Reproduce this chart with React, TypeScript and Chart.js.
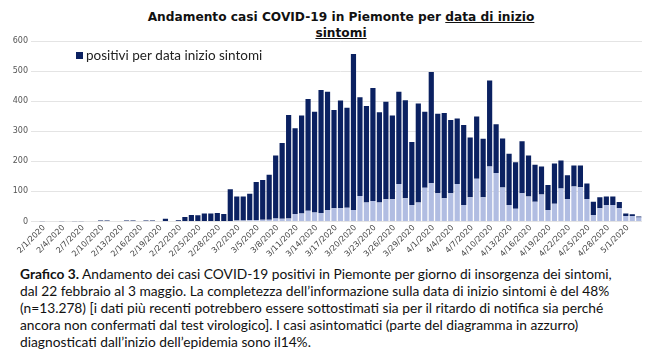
import React, { useEffect, useRef } from "react";
import { Chart, registerables } from "chart.js";

Chart.register(...registerables);

const dateLabels: string[] = [
  "2/1/2020","2/2/2020","2/3/2020","2/4/2020","2/5/2020","2/6/2020","2/7/2020","2/8/2020","2/9/2020","2/10/2020",
  "2/11/2020","2/12/2020","2/13/2020","2/14/2020","2/15/2020","2/16/2020","2/17/2020","2/18/2020","2/19/2020","2/20/2020",
  "2/21/2020","2/22/2020","2/23/2020","2/24/2020","2/25/2020","2/26/2020","2/27/2020","2/28/2020","2/29/2020",
  "3/1/2020","3/2/2020","3/3/2020","3/4/2020","3/5/2020","3/6/2020","3/7/2020","3/8/2020","3/9/2020","3/10/2020",
  "3/11/2020","3/12/2020","3/13/2020","3/14/2020","3/15/2020","3/16/2020","3/17/2020","3/18/2020","3/19/2020","3/20/2020",
  "3/21/2020","3/22/2020","3/23/2020","3/24/2020","3/25/2020","3/26/2020","3/27/2020","3/28/2020","3/29/2020","3/30/2020","3/31/2020",
  "4/1/2020","4/2/2020","4/3/2020","4/4/2020","4/5/2020","4/6/2020","4/7/2020","4/8/2020","4/9/2020","4/10/2020",
  "4/11/2020","4/12/2020","4/13/2020","4/14/2020","4/15/2020","4/16/2020","4/17/2020","4/18/2020","4/19/2020","4/20/2020",
  "4/21/2020","4/22/2020","4/23/2020","4/24/2020","4/25/2020","4/26/2020","4/27/2020","4/28/2020","4/29/2020","4/30/2020",
  "5/1/2020","5/2/2020","5/3/2020",
];

// total positives per day of symptom onset
const totalCases: number[] = [
  1,0,0,1,0,1,1,0,0,3,3,0,2,3,3,2,3,3,2,9,2,4,15,22,21,27,27,28,25,
  107,83,83,92,131,138,155,219,261,354,
  310,352,407,365,437,431,371,402,378,557,
  413,384,444,363,398,352,431,403,264,392,
  365,497,358,361,337,342,321,279,349,275,
  469,323,276,225,197,267,219,189,183,121,
  193,203,154,186,186,126,66,81,83,83,
  65,27,24,17,
];

// asymptomatic part (light blue)
const asymptomatic: number[] = [
  0,0,0,0,0,0,0,0,0,0,0,0,0,0,0,0,0,0,0,0,0,0,0,0,0,0,0,0,0,
  2,3,3,4,5,6,6,10,9,10,
  25,27,36,30,28,38,44,44,46,38,
  85,63,68,63,74,74,125,77,55,63,
  112,127,94,77,94,125,55,81,142,81,
  183,161,113,55,42,94,83,66,90,38,
  59,110,75,116,114,75,22,44,55,55,
  44,18,18,13,
];

const yTicks: number[] = [0, 100, 200, 300, 400, 500, 600];

const DARK = "#0b2161";
const LIGHT = "#b1bde2";
const legendText = "positivi per data inizio sintomi";

const legendPlugin = {
  id: "insideLegend",
  afterDraw(chart: any) {
    const ctx = chart.ctx;
    ctx.save();
    ctx.fillStyle = DARK;
    ctx.fillRect(76, 52, 7, 7);
    ctx.fillStyle = "#222";
    ctx.font = "13.5px Lato";
    ctx.textBaseline = "middle";
    ctx.fillText(legendText, 86, 56);
    ctx.restore();
  },
};

const xLabelPlugin = {
  id: "rotatedXLabels",
  afterDraw(chart: any) {
    const ctx = chart.ctx;
    const xs = chart.scales.x;
    const bottom = chart.chartArea.bottom;
    ctx.save();
    ctx.fillStyle = "#444";
    ctx.font = "8px 'DejaVu Sans'";
    ctx.textAlign = "right";
    ctx.textBaseline = "middle";
    dateLabels.forEach((lab, i) => {
      if (i % 3 !== 0) return;
      const x = xs.getPixelForValue(i);
      ctx.save();
      ctx.translate(x + 2, bottom + 5);
      ctx.rotate(-Math.PI / 4);
      ctx.fillText(lab, 0, 0);
      ctx.restore();
    });
    ctx.restore();
  },
};

export default function App() {
  const ref = useRef<HTMLCanvasElement | null>(null);
  useEffect(() => {
    if (!ref.current) return;
    const symptomatic = totalCases.map((t, i) => t - asymptomatic[i]);
    const chart = new Chart(ref.current, {
      type: "bar",
      data: {
        labels: dateLabels,
        datasets: [
          {
            label: "asintomatici",
            data: asymptomatic,
            backgroundColor: LIGHT,
            barPercentage: 0.8,
            categoryPercentage: 1,
          },
          {
            label: legendText,
            data: symptomatic,
            backgroundColor: DARK,
            barPercentage: 0.8,
            categoryPercentage: 1,
          },
        ],
      },
      options: {
        responsive: false,
        animation: false,
        layout: { padding: { top: 41, right: 8, left: 0, bottom: 0 } },
        plugins: {
          legend: { display: false },
          tooltip: { enabled: false },
          title: { display: false },
        },
        scales: {
          x: {
            stacked: true,
            grid: { display: false },
            border: { display: false },
            ticks: { display: false },
            afterFit: (s: any) => {
              s.height = 40.5;
            },
          },
          y: {
            stacked: true,
            min: 0,
            max: 600,
            afterBuildTicks: (s: any) => {
              s.ticks = yTicks.map((v) => ({ value: v }));
            },
            grid: { color: "#e4e4e4", lineWidth: 1 },
            border: { display: false },
            ticks: {
              color: "#555",
              font: { family: "DejaVu Sans", size: 8 },
              padding: 3,
            },
            afterFit: (s: any) => {
              s.width = 39;
            },
          },
        },
      },
      plugins: [legendPlugin, xLabelPlugin],
    });
    return () => chart.destroy();
  }, []);

  const lineStyle: React.CSSProperties = { whiteSpace: "nowrap", height: 17 };

  return (
    <div style={{ position: "absolute", left: 0, top: 0, width: 650, height: 358, background: "#fff", overflow: "hidden" }}>
      <div
        style={{
          position: "absolute",
          left: 40,
          width: 602,
          top: 9,
          textAlign: "center",
          fontFamily: "DejaVu Sans",
          fontWeight: "bold",
          fontSize: 12.2,
          lineHeight: "16px",
          color: "#111",
        }}
      >
        Andamento casi COVID-19 in Piemonte per{" "}
        <span style={{ textDecoration: "underline" }}>data di inizio</span>
        <br />
        <span style={{ textDecoration: "underline" }}>sintomi</span>
      </div>
      <canvas ref={ref} width={650} height={262} style={{ position: "absolute", left: 0, top: 0, width: 650, height: 262 }} />
      <div
        style={{
          position: "absolute",
          left: 20,
          top: 265,
          fontFamily: "Lato",
          fontSize: 13.75,
          lineHeight: "17px",
          color: "#111",
        }}
      >
        <div style={lineStyle}>
          <b>Grafico 3.</b> Andamento dei casi COVID-19 positivi in Piemonte per giorno di insorgenza dei sintomi,
        </div>
        <div style={lineStyle}>dal 22 febbraio al 3 maggio. La completezza dell’informazione sulla data di inizio sintomi è del 48%</div>
        <div style={lineStyle}>(n=13.278) [i dati più recenti potrebbero essere sottostimati sia per il ritardo di notifica sia perché</div>
        <div style={lineStyle}>ancora non confermati dal test virologico]. I casi asintomatici (parte del diagramma in azzurro)</div>
        <div style={lineStyle}>diagnosticati dall’inizio dell’epidemia sono il14%.</div>
      </div>
    </div>
  );
}
